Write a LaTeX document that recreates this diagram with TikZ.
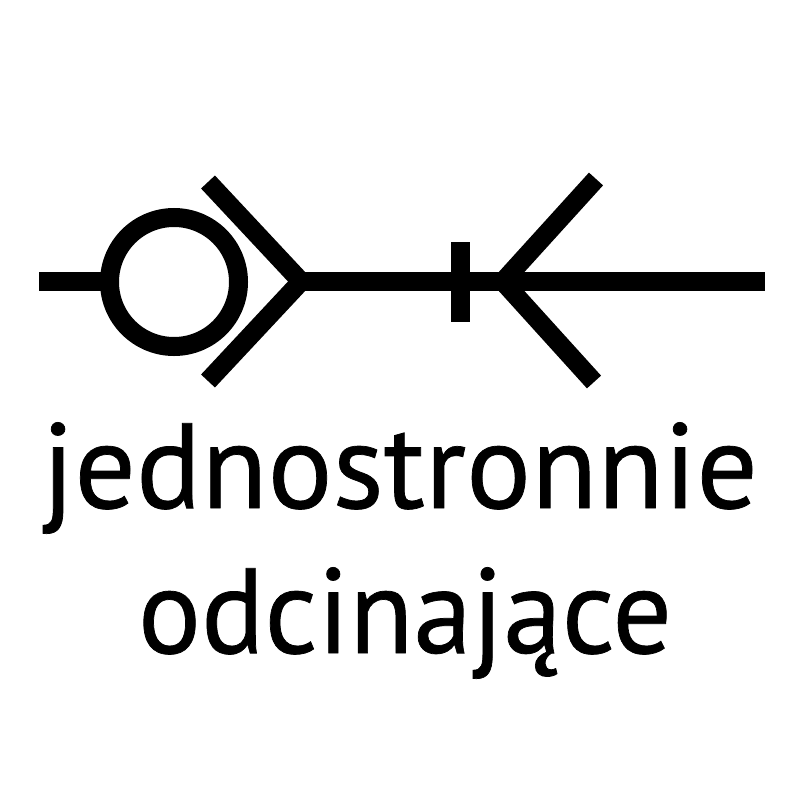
\documentclass[tikz,border=0pt]{standalone}
\usepackage{fontspec}
\usepackage{graphicx}
\setmainfont{PT Sans}[FakeBold=0.6]
\begin{document}
\begin{tikzpicture}[x=1pt,y=-1pt,
  sym/.style={line width=19pt,line cap=butt,line join=miter,black},
  lbl/.style={anchor=base,inner sep=0pt,font=\fontsize{121}{121}\selectfont}]
\useasboundingbox[fill=white] (0,0) rectangle (800,800);
% left stub and circle
\coordinate (L) at (39,281.5);
\coordinate (C) at (174,282);
\draw[sym] (L) -- (110,281.5);
\draw[sym] (C) circle[radius=64.5];
% check chevron
\coordinate (A1) at (301,281.5);
\draw[sym] (208,182) -- (A1) -- (208,381);
% main line
\coordinate (R) at (765,281.5);
\draw[sym] (A1) -- (R);
% bar
\draw[sym] (460.5,242) -- (460.5,322);
% reverse chevron
\coordinate (A2) at (503,281.5);
\draw[sym] (596,179) -- (A2) -- (594,382);
% labels
\node[lbl] (t1) at (400,508) {\resizebox{716pt}{\height}{jednostronnie}};
\node[lbl] (t2) at (405,653) {\resizebox{534pt}{\height}{odcinające}};
\end{tikzpicture}
\end{document}
